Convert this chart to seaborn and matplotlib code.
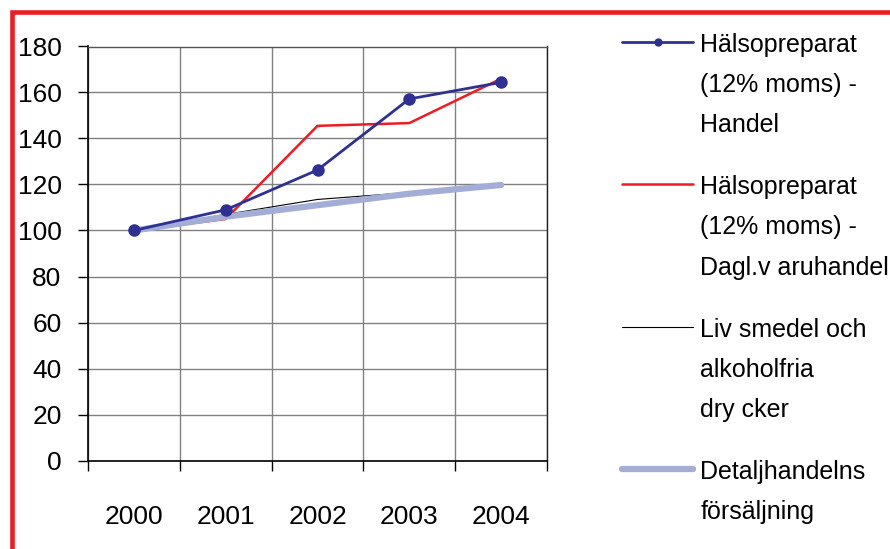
import numpy as np
import pandas as pd
import matplotlib
matplotlib.use("Agg")
import matplotlib.pyplot as plt
import matplotlib.patches as mpatches
import seaborn as sns

years = ["2000", "2001", "2002", "2003", "2004"]
handel = [100, 109, 126.3, 157.2, 164.4]
dagl = [100, 105, 145.5, 146.7, 166]
livsmedel = [100, 107, 113.5, 116.5, 120]
detalj = [100, 106, 111, 116, 119.8]

labels = ["Hälsopreparat\n(12% moms) -\nHandel",
          "Hälsopreparat\n(12% moms) -\nDagl.v aruhandel",
          "Liv smedel och\nalkoholfria\ndry cker",
          "Detaljhandelns\nförsäljning"]

df = pd.DataFrame({"pos": np.arange(len(years)), "handel": handel, "dagl": dagl,
                   "livsmedel": livsmedel, "detalj": detalj})

sns.set_style("white")
plt.rcParams['font.family'] = ['Liberation Sans', 'DejaVu Sans']
plt.rcParams['text.color'] = 'black'
plt.rcParams['xtick.color'] = 'black'
plt.rcParams['ytick.color'] = 'black'
plt.rcParams['xtick.labelcolor'] = 'black'
plt.rcParams['ytick.labelcolor'] = 'black'

fig = plt.figure(figsize=(8.9, 5.49), dpi=100)
ax = fig.add_axes([88/890, 1-460.5/549, (547-88)/890, (460.5-46.5)/549])

# draw order: black, red, light blue, blue on top
sns.lineplot(data=df, x="pos", y="livsmedel", ax=ax, color="black", linewidth=0.8, zorder=3)
sns.lineplot(data=df, x="pos", y="dagl", ax=ax, color="#ED1C24", linewidth=1.8, zorder=4)
sns.lineplot(data=df, x="pos", y="detalj", ax=ax, color="#A4ADD6", linewidth=4.5,
             solid_capstyle="round", zorder=5)
sns.lineplot(data=df, x="pos", y="handel", ax=ax, color="#2E3192", linewidth=2.0,
             marker="o", markersize=9, markeredgewidth=0, zorder=6)

lines = ax.get_lines()
h_liv, h_dagl, h_det, h_han = lines[0], lines[1], lines[2], lines[3]

ax.set_xlim(-0.5, len(years) - 0.5)
ax.set_ylim(0, 180)
ax.set_yticks(np.arange(0, 181, 20))
ax.set_xticks(np.arange(-0.5, len(years), 1))
ax.set_xticklabels([])
ax.set_xticks(np.arange(len(years)), minor=True)
ax.set_xticklabels(years, minor=True)
ax.set_xlabel("")
ax.set_ylabel("")

ax.grid(True, which="major", color="#808080", linewidth=1)
ax.tick_params(axis="x", which="major", direction="out", length=7, width=1, color="black", bottom=True)
ax.tick_params(axis="x", which="minor", length=0, pad=32, labelsize=19)
ax.tick_params(axis="y", direction="out", length=7, width=1, color="black", left=True,
               pad=12, labelsize=19)
for s in ["left", "bottom"]:
    ax.spines[s].set_color("black")
    ax.spines[s].set_linewidth(1.2)
ax.spines["right"].set_color("#222222")
ax.spines["right"].set_linewidth(1)
ax.spines["top"].set_color("#555555")
ax.spines["top"].set_linewidth(1)

leg = fig.legend([h_han, h_dagl, h_liv, h_det], labels, loc="upper left",
                 bbox_to_anchor=(622/890, 1-33/549), frameon=False, fontsize=18,
                 handlelength=2.85, handletextpad=0.28, handleheight=0.8,
                 labelspacing=1.52, borderpad=0, borderaxespad=0)
for t in leg.get_texts():
    t.set_linespacing(1.85)
for col in leg._legend_handle_box.get_children():
    for entry in col.get_children():
        entry.align = "top"
leg.legend_handles[0].set_markersize(6)

# red frame on top and left edge
frame = mpatches.Rectangle((12/890, -0.1), 1.2, 1.1 - 12.5/549, transform=fig.transFigure,
                           fill=False, edgecolor="#ED1C24", linewidth=3.3, clip_on=False)
fig.patches.append(frame)

fig.savefig("out.png", dpi=100)
